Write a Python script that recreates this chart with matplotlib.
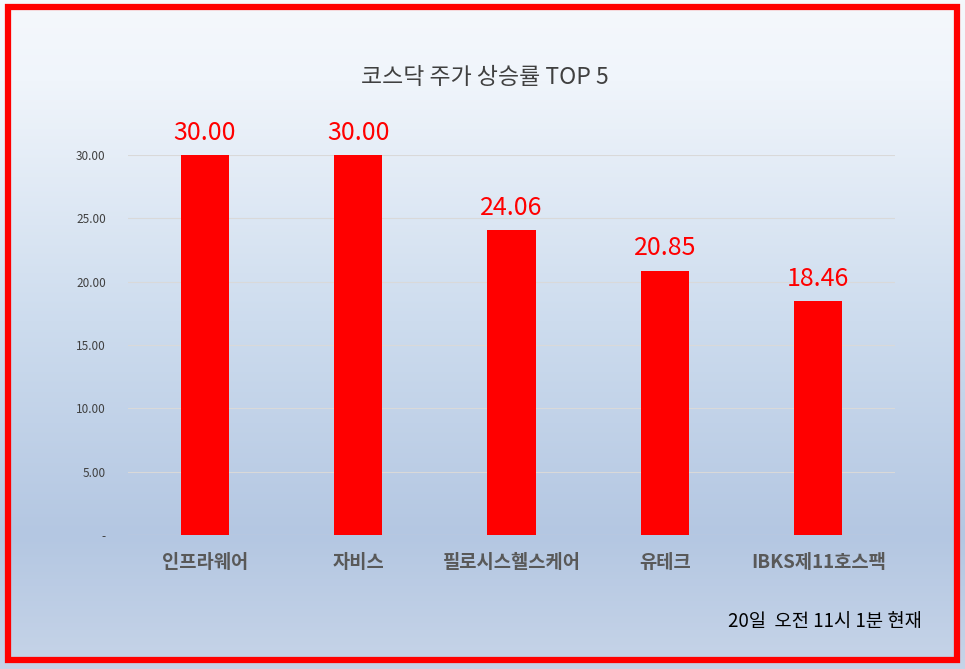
import numpy as np
import matplotlib
matplotlib.use("Agg")
import matplotlib.pyplot as plt
from matplotlib.colors import LinearSegmentedColormap
from matplotlib.patches import Rectangle

plt.rcParams['font.family'] = ['Noto Sans CJK KR', 'DejaVu Sans']

# ── data ─────────────────────────────────────────────────────────────
categories = ["인프라웨어", "자비스", "필로시스헬스케어", "유테크", "IBKS제11호스팩"]
values = [30.00, 30.00, 24.06, 20.85, 18.46]
yticks = [0, 5, 10, 15, 20, 25, 30]
ytick_labels = ["-", "5.00", "10.00", "15.00", "20.00", "25.00", "30.00"]

W, H = 965, 669
fig = plt.figure(figsize=(W / 100, H / 100), dpi=100)

# ── background gradient ──────────────────────────────────────────────
bg = fig.add_axes([0, 0, 1, 1], zorder=0)
cmap = LinearSegmentedColormap.from_list(
    "bg", [(0.0, (245/255, 248/255, 252/255)),
           (0.12, (240/255, 245/255, 251/255)),
           (0.48, (205/255, 220/255, 238/255)),
           (0.80, (180/255, 199/255, 226/255)),
           (1.0, (198/255, 212/255, 232/255))])
grad = np.linspace(0, 1, 256).reshape(-1, 1)
bg.imshow(grad, aspect="auto", cmap=cmap, extent=[0, 1, 0, 1], origin="upper")
bg.add_patch(Rectangle((8 / W, 1 - 660 / H), 949 / W, 653 / H, fill=False,
                       edgecolor="#ff0000", linewidth=4.5, transform=bg.transAxes))
bg.set_xlim(0, 1)
bg.set_ylim(0, 1)
bg.axis("off")

# ── chart ────────────────────────────────────────────────────────────
ax = fig.add_axes([128 / W, 1 - 535 / H, 767 / W, 380 / H], zorder=1)
ax.patch.set_alpha(0)
x = np.arange(len(categories))
bars = ax.bar(x, values, width=0.313, color="#ff0000", zorder=3)
for b, v in zip(bars, values):
    ax.text(b.get_x() + b.get_width() / 2, v + 0.75, f"{v:.2f}",
            ha="center", va="bottom", color="#ff0000", fontsize=18)

ax.set_xlim(-0.5, len(categories) - 0.5)
ax.set_ylim(0, 30)
ax.set_yticks(yticks)
ax.set_yticklabels(ytick_labels, fontsize=8.5, color="#404040")
ax.set_xticks(x)
ax.set_xticklabels(categories, fontsize=13.5, fontweight="bold", color="#595959")
ax.tick_params(axis="both", length=0)
ax.tick_params(axis="y", pad=16)
ax.tick_params(axis="x", pad=13)
ax.grid(axis="y", color="#d9d9d9", linewidth=0.8, zorder=0)
for s in ax.spines.values():
    s.set_visible(False)
ax.axhline(0, color="#d9d9d9", linewidth=0.8, zorder=1)

fig.text(485 / W, 1 - 78 / H, "코스닥 주가 상승률 TOP 5", ha="center", va="center",
         fontsize=16.5, color="#404040")
fig.text(922 / W, 1 - 622 / H, "20일  오전 11시 1분 현재", ha="right", va="center",
         fontsize=13.5, color="#000000")

fig.savefig("out.png", dpi=100)
